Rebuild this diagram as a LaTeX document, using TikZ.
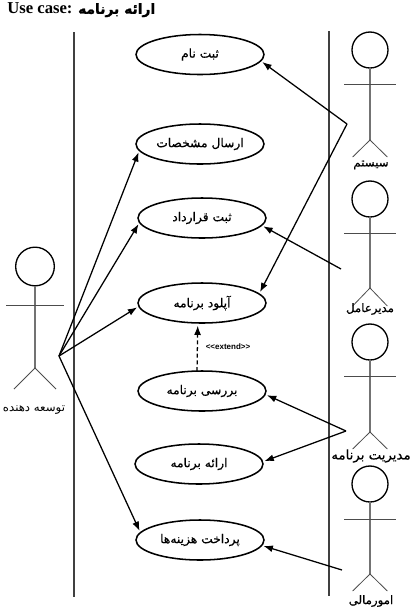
\documentclass[tikz,border=0pt]{standalone}
\usepackage{fontspec}
\usetikzlibrary{arrows.meta,shapes.geometric}
\TeXXeTstate=1
\newfontfamily\arabicfont[Script=Arabic,FakeBold=0.6]{DejaVu Sans}
\newfontfamily\arabictitle[Script=Arabic,FakeBold=1.2]{DejaVu Sans}
\newfontfamily\arabiclight[Script=Arabic]{DejaVu Sans}
\newfontfamily\latinb{Liberation Serif}
\newfontfamily\latins{Liberation Sans}
\newcommand{\fa}[1]{{\arabicfont\beginR #1\endR}}
\tikzset{
  x=0.75pt,y=-0.75pt,
  usecase/.style={draw=black,ellipse,line width=1.15pt,minimum width=96pt,minimum height=30pt,inner sep=0pt,outer sep=0pt,font=\fontsize{9.2}{11}\selectfont},
  headnode/.style={draw=black,circle,line width=1pt,minimum size=27pt,inner sep=0pt,outer sep=0pt},
  bodyline/.style={draw=black!55,line width=0.95pt},
  limbline/.style={draw=black!70,line width=0.6pt},
  boundary/.style={draw=black!75,line width=1pt},
  assoc/.style={draw=black,line width=0.95pt,-{Latex[length=7pt,width=5.2pt]},shorten >=1.5pt},
  extendline/.style={draw=black,line width=0.95pt,densely dashed,-{Latex[length=7pt,width=5.2pt]},shorten >=2pt},
  actorlabel/.style={font=\fontsize{8.8}{10}\selectfont,inner sep=0pt}
}
\newcommand{\actorfig}[6]{% name, x, headY, armY, hipY, legY
  \node[headnode] (#1) at (#2,#3) {};
  \coordinate (#1hip) at (#2,#5);
  \draw[bodyline] (#1.south) -- (#1hip);
  \coordinate (#1al) at ([xshift=-19.5pt]#2,#4);
  \coordinate (#1ar) at ([xshift=19.5pt]#2,#4);
  \draw[limbline] (#1al) -- (#1ar);
  \coordinate (#1ll) at ([xshift=-13pt]#2,#6);
  \coordinate (#1lr) at ([xshift=13pt]#2,#6);
  \draw[limbline] (#1ll) -- (#1hip) -- (#1lr);
}
\begin{document}
\begin{tikzpicture}
\useasboundingbox (0,0) rectangle (410,612);
\node[anchor=west,inner sep=0pt,font=\fontsize{12.5}{14}\selectfont\bfseries] (title) at (7,10) {\latinb Use case: {\fontsize{10.4}{13}\selectfont\arabictitle\beginR ارائه برنامه\endR}};
\coordinate (b1t) at (74,32); \coordinate (b1b) at (74,597);
\coordinate (b2t) at (329,31); \coordinate (b2b) at (329,596);
\draw[boundary] (b1t) -- (b1b);
\draw[boundary] (b2t) -- (b2b);
\node[usecase] (e1) at (200,54.5) {\fa{ثبت نام}};
\node[usecase] (e2) at (200,144) {\fa{ارسال مشخصات}};
\node[usecase] (e3) at (202,218) {\fa{ثبت قرارداد}};
\node[usecase] (e4) at (202,303) {\fa{آپلود برنامه}};
\node[usecase] (e5) at (202,391) {\fa{بررسی برنامه}};
\node[usecase] (e6) at (199,464) {\fa{ارائه برنامه}};
\node[usecase] (e7) at (200,540) {\fa{پرداخت هزینه‌ها}};
\actorfig{a1}{370}{50}{84.5}{140}{157}
\actorfig{a2}{370}{199}{233}{288}{306}
\actorfig{a3}{370}{342}{376}{432}{449}
\actorfig{a4}{370}{484}{519}{574}{591}
\node[headnode,minimum size=29pt] (dev) at (35,266.5) {};
\coordinate (devhip) at (35,368);
\draw[bodyline] (dev.south) -- (devhip);
\coordinate (deval) at (6,305); \coordinate (devar) at (64,305);
\draw[limbline] (deval) -- (devar);
\coordinate (devll) at (14,389); \coordinate (devlr) at (56,389);
\draw[limbline] (devll) -- (devhip) -- (devlr);
\node[actorlabel] (l1) at (371,165) {\fa{سیستم}};
\node[actorlabel] (l2) at (370,309) {\fa{مدیرعامل}};
\node[actorlabel,font=\fontsize{10}{11}\selectfont] (l3) at (371,456) {\fa{مدیریت برنامه}};
\node[actorlabel] (l4) at (371,601) {\fa{امورمالی}};
\node[actorlabel,font=\fontsize{8.8}{10}\selectfont] (l5) at (34,410) {{\arabiclight\beginR توسعه دهنده\endR}};
\coordinate (hubdev) at (59,356);
\coordinate (huba1) at (347,124);
\coordinate (huba2) at (341,269);
\coordinate (huba3) at (346,431);
\coordinate (huba4) at (342,570);
\draw[assoc] (hubdev) -- (e2.186);
\draw[assoc] (hubdev) -- (e3.184);
\draw[assoc] (hubdev) -- (e4.183);
\draw[assoc] (hubdev) -- (e7.173);
\draw[assoc] (huba1) -- (e1.-6);
\draw[assoc] (huba1) -- (e4.9);
\draw[assoc] (huba2) -- (e3.-7);
\draw[assoc] (huba3) -- (e5.-3);
\draw[assoc] (huba3) -- (e6.2);
\draw[assoc] (huba4) -- (e7.-5);
\draw[extendline] (e5.104) -- (e4.258);
\node[inner sep=0pt,font=\fontsize{6}{7}\selectfont\bfseries] (ext) at (228,347) {\latins <{}<extend>{}>};
\end{tikzpicture}
\end{document}
